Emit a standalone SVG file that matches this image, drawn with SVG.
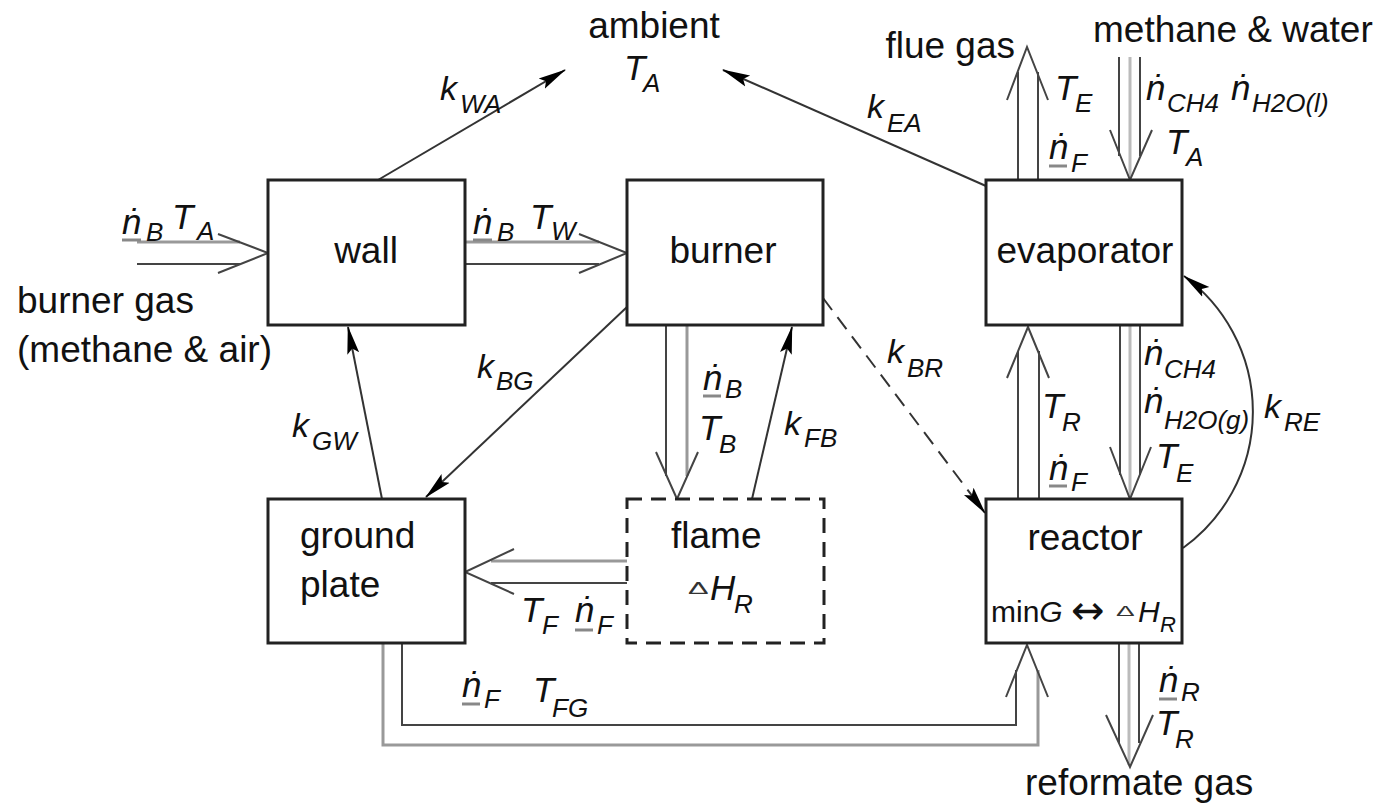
<svg xmlns="http://www.w3.org/2000/svg" width="1378" height="804" viewBox="0 0 1378 804">
<style>
text{font-family:"Liberation Sans",Arial,"DejaVu Sans",sans-serif;fill:#111}
.t{font-size:37px}
.mi{font-size:35px;font-style:italic}
.k{font-size:34px;font-style:italic}
.sub{font-size:26px;font-style:italic}
.sm{font-size:30px}
.dl{font-family:"DejaVu Sans",sans-serif}
.dt{font-size:28px;fill:#333}
.box{fill:#fff;stroke:#222;stroke-width:3}
.dash{stroke-dasharray:15 9}
.ln{stroke:#444;stroke-width:2;fill:none}
.lg{stroke:#999;stroke-width:3;fill:none}
.lc{stroke:#bbb;stroke-width:3;fill:none}
.ul{stroke:#888;stroke-width:3}
.ar{stroke:#333;stroke-width:2;fill:none;marker-end:url(#ah)}
</style>
<defs>
<marker id="ah" markerWidth="28" markerHeight="14" refX="27" refY="7" orient="auto" markerUnits="userSpaceOnUse">
<path d="M0,1 L28,7 L0,13 L5,7 z" fill="#000"/>
</marker>
</defs>
<rect width="1378" height="804" fill="#fff"/>

<g id="connectors">
<g id="c-input">
<line class="lg" x1="137" y1="242" x2="240" y2="242"/>
<line class="ln" x1="137" y1="264" x2="240" y2="264"/>
<polyline class="ln" points="218,234 268,253 218,273"/>
</g>
<g id="c-wall-burner">
<line class="lg" x1="465" y1="242" x2="599" y2="242"/>
<line class="ln" x1="465" y1="264" x2="599" y2="264"/>
<polyline class="ln" points="579,234 627,253 579,273"/>
</g>
<g id="c-burner-flame">
<line class="ln" x1="666" y1="325" x2="666" y2="476"/>
<line class="lg" x1="687" y1="325" x2="687" y2="476"/>
<polyline class="ln" points="656,452 677,499 698,452"/>
</g>
<g id="c-flame-ground">
<line class="lg" x1="627" y1="561" x2="491" y2="561"/>
<line class="ln" x1="627" y1="583" x2="491" y2="583"/>
<polyline class="ln" points="514,549 465,572 514,594"/>
</g>
<g id="c-flue">
<line class="ln" x1="1018" y1="180" x2="1018" y2="72"/>
<line class="ln" x1="1038" y1="180" x2="1038" y2="72"/>
<polyline class="ln" points="1007,100 1027,47 1048,100"/>
</g>
<g id="c-feed">
<line class="lc" x1="1130" y1="57" x2="1130" y2="178"/>
<line class="ln" x1="1119" y1="57" x2="1119" y2="156"/>
<line class="ln" x1="1140" y1="57" x2="1140" y2="156"/>
<polyline class="ln" points="1110,130 1130,180 1152,130"/>
</g>
<g id="c-evap-reactor">
<line class="lc" x1="1130" y1="325" x2="1130" y2="497"/>
<line class="ln" x1="1120" y1="325" x2="1120" y2="475"/>
<line class="ln" x1="1140" y1="325" x2="1140" y2="475"/>
<polyline class="ln" points="1110,447 1130,499 1151,447"/>
</g>
<g id="c-reactor-evap">
<line class="ln" x1="1018" y1="499" x2="1018" y2="351"/>
<line class="ln" x1="1039" y1="499" x2="1039" y2="351"/>
<polyline class="ln" points="1007,378 1028,327 1049,378"/>
</g>
<g id="c-ground-reactor">
<polyline class="ln" points="402,643 402,725 1016,725 1016,670"/>
<polyline class="lg" points="383,643 383,745 1038,745 1038,670"/>
<polyline class="ln" points="1006,697 1027,645 1048,697"/>
</g>
<g id="c-reformate">
<line class="lc" x1="1129" y1="643" x2="1129" y2="765"/>
<line class="ln" x1="1119" y1="643" x2="1119" y2="743"/>
<line class="ln" x1="1139" y1="643" x2="1139" y2="743"/>
<polyline class="ln" points="1106,715 1130,767 1153,715"/>
</g>
<line id="c-kWA" class="ar" x1="378" y1="180" x2="565" y2="70"/>
<line id="c-kEA" class="ar" x1="986" y1="186" x2="723" y2="70"/>
<line id="c-kGW" class="ar" x1="382" y1="499" x2="348" y2="327"/>
<line id="c-kBG" class="ar" x1="627" y1="307" x2="426" y2="497"/>
<line id="c-kFB" class="ar" x1="752" y1="499" x2="792" y2="327"/>
<line id="c-kBR" class="ar dash" x1="823" y1="298" x2="985" y2="513"/>
<path id="c-kRE" class="ar" d="M1183,548 A168,168 0 0 0 1184,276"/>

<g id="labels">
<text class="mi" x="122" y="234">ṅ</text><line class="ul" x1="122" y1="240" x2="141" y2="240"/><text class="sub" x="146" y="241">B</text>
<text class="mi" x="172" y="229">T</text><text class="sub" x="197" y="240">A</text>

<text class="mi" x="473" y="234">ṅ</text><line class="ul" x1="473" y1="240" x2="492" y2="240"/><text class="sub" x="497" y="241">B</text>
<text class="mi" x="530" y="229">T</text><text class="sub" x="551" y="240">W</text>

<text class="k" x="440" y="100">k</text><text class="sub" x="460" y="113">WA</text>
<text class="k" x="867" y="118">k</text><text class="sub" x="887" y="132">EA</text>

<text class="mi" x="1055" y="100">T</text><text class="sub" x="1075" y="112">E</text>
<text class="mi" x="1049" y="159">ṅ</text><line class="ul" x1="1049" y1="166" x2="1067" y2="166"/><text class="sub" x="1071" y="172">F</text>
<text class="mi" x="1146" y="100">ṅ</text><text class="sub" x="1167" y="112">CH4</text>
<text class="mi" x="1231" y="100">ṅ</text><text class="sub" x="1252" y="112">H2O(l)</text>
<text class="mi" x="1166" y="154">T</text><text class="sub" x="1186" y="166">A</text>

<text class="k" x="292" y="437">k</text><text class="sub" x="312" y="450">GW</text>
<text class="k" x="477" y="378">k</text><text class="sub" x="496" y="390">BG</text>
<text class="mi" x="703" y="390">ṅ</text><line class="ul" x1="703" y1="396" x2="721" y2="396"/><text class="sub" x="725" y="398">B</text>
<text class="mi" x="699" y="440">T</text><text class="sub" x="719" y="453">B</text>
<text class="k" x="784" y="435">k</text><text class="sub" x="804" y="447">FB</text>
<text class="k" x="887" y="363">k</text><text class="sub" x="907" y="377">BR</text>

<text class="mi" x="1042" y="418">T</text><text class="sub" x="1062" y="431">R</text>
<text class="mi" x="1049" y="480">ṅ</text><line class="ul" x1="1049" y1="486" x2="1067" y2="486"/><text class="sub" x="1071" y="491">F</text>
<text class="mi" x="1144" y="365">ṅ</text><text class="sub" x="1164" y="378">CH4</text>
<text class="mi" x="1144" y="413">ṅ</text><text class="sub" x="1164" y="429">H2O(g)</text>
<text class="mi" x="1156" y="468">T</text><text class="sub" x="1176" y="482">E</text>
<text class="k" x="1264" y="418">k</text><text class="sub" x="1284" y="431">RE</text>

<text class="mi" x="521" y="622">T</text><text class="sub" x="542" y="634">F</text>
<text class="mi" x="575" y="622">ṅ</text><line class="ul" x1="575" y1="630" x2="593" y2="630"/><text class="sub" x="597" y="634">F</text>

<text class="mi" x="462" y="697">ṅ</text><line class="ul" x1="462" y1="704" x2="480" y2="704"/><text class="sub" x="484" y="708">F</text>
<text class="mi" x="533" y="702">T</text><text class="sub" x="552" y="717">FG</text>

<text class="mi" x="1159" y="692">ṅ</text><line class="ul" x1="1159" y1="699" x2="1177" y2="699"/><text class="sub" x="1181" y="701">R</text>
<text class="mi" x="1156" y="735">T</text><text class="sub" x="1175" y="748">R</text>

<text class="t" x="17" y="313">burner gas</text>
<text class="t" x="17" y="362">(methane &amp; air)</text>
<text class="t" x="1015" y="58" text-anchor="end">flue gas</text>
<text class="t" x="1093" y="42">methane &amp; water</text>
<text class="t" x="1025" y="795">reformate gas</text>
</g>
</g>

<g id="ambient">
<text class="t" x="654" y="38" text-anchor="middle">ambient</text>
<text class="mi" x="624" y="80">T</text><text class="sub" x="643" y="92">A</text>
</g>

<g id="wall">
<rect class="box" x="268" y="180" width="197" height="145"/>
<text class="t" x="366" y="263" text-anchor="middle">wall</text>
</g>
<g id="burner">
<rect class="box" x="627" y="180" width="196" height="145"/>
<text class="t" x="723" y="263" text-anchor="middle">burner</text>
</g>
<g id="evaporator">
<rect class="box" x="986" y="180" width="196" height="145"/>
<text class="t" x="1085" y="263" text-anchor="middle">evaporator</text>
</g>
<g id="groundplate">
<rect class="box" x="268" y="499" width="197" height="144"/>
<text class="t" x="300" y="548">ground</text>
<text class="t" x="300" y="597">plate</text>
</g>
<g id="flame">
<rect class="box dash" x="627" y="499" width="197" height="144"/>
<text class="t" x="671" y="548">flame</text>
<text class="dt" transform="translate(688,594) scale(1.1,0.6)">Δ</text>
<text class="mi" x="710" y="600">H</text><text class="sub" x="734" y="613">R</text>
</g>
<g id="reactor">
<rect class="box" x="986" y="499" width="196" height="144"/>
<text class="t" x="1085" y="550" text-anchor="middle">reactor</text>
<text class="sm" x="991" y="622">min<tspan font-style="italic">G</tspan></text>
<text class="dl" x="1071" y="624" style="font-size:40px">↔</text>
<text class="dt" transform="translate(1116,616) scale(1.0,0.55)">Δ</text>
<text class="sm" x="1138" y="622" font-style="italic">H</text><text x="1160" y="632" style="font-size:22px;font-style:italic">R</text>
</g>
</svg>
